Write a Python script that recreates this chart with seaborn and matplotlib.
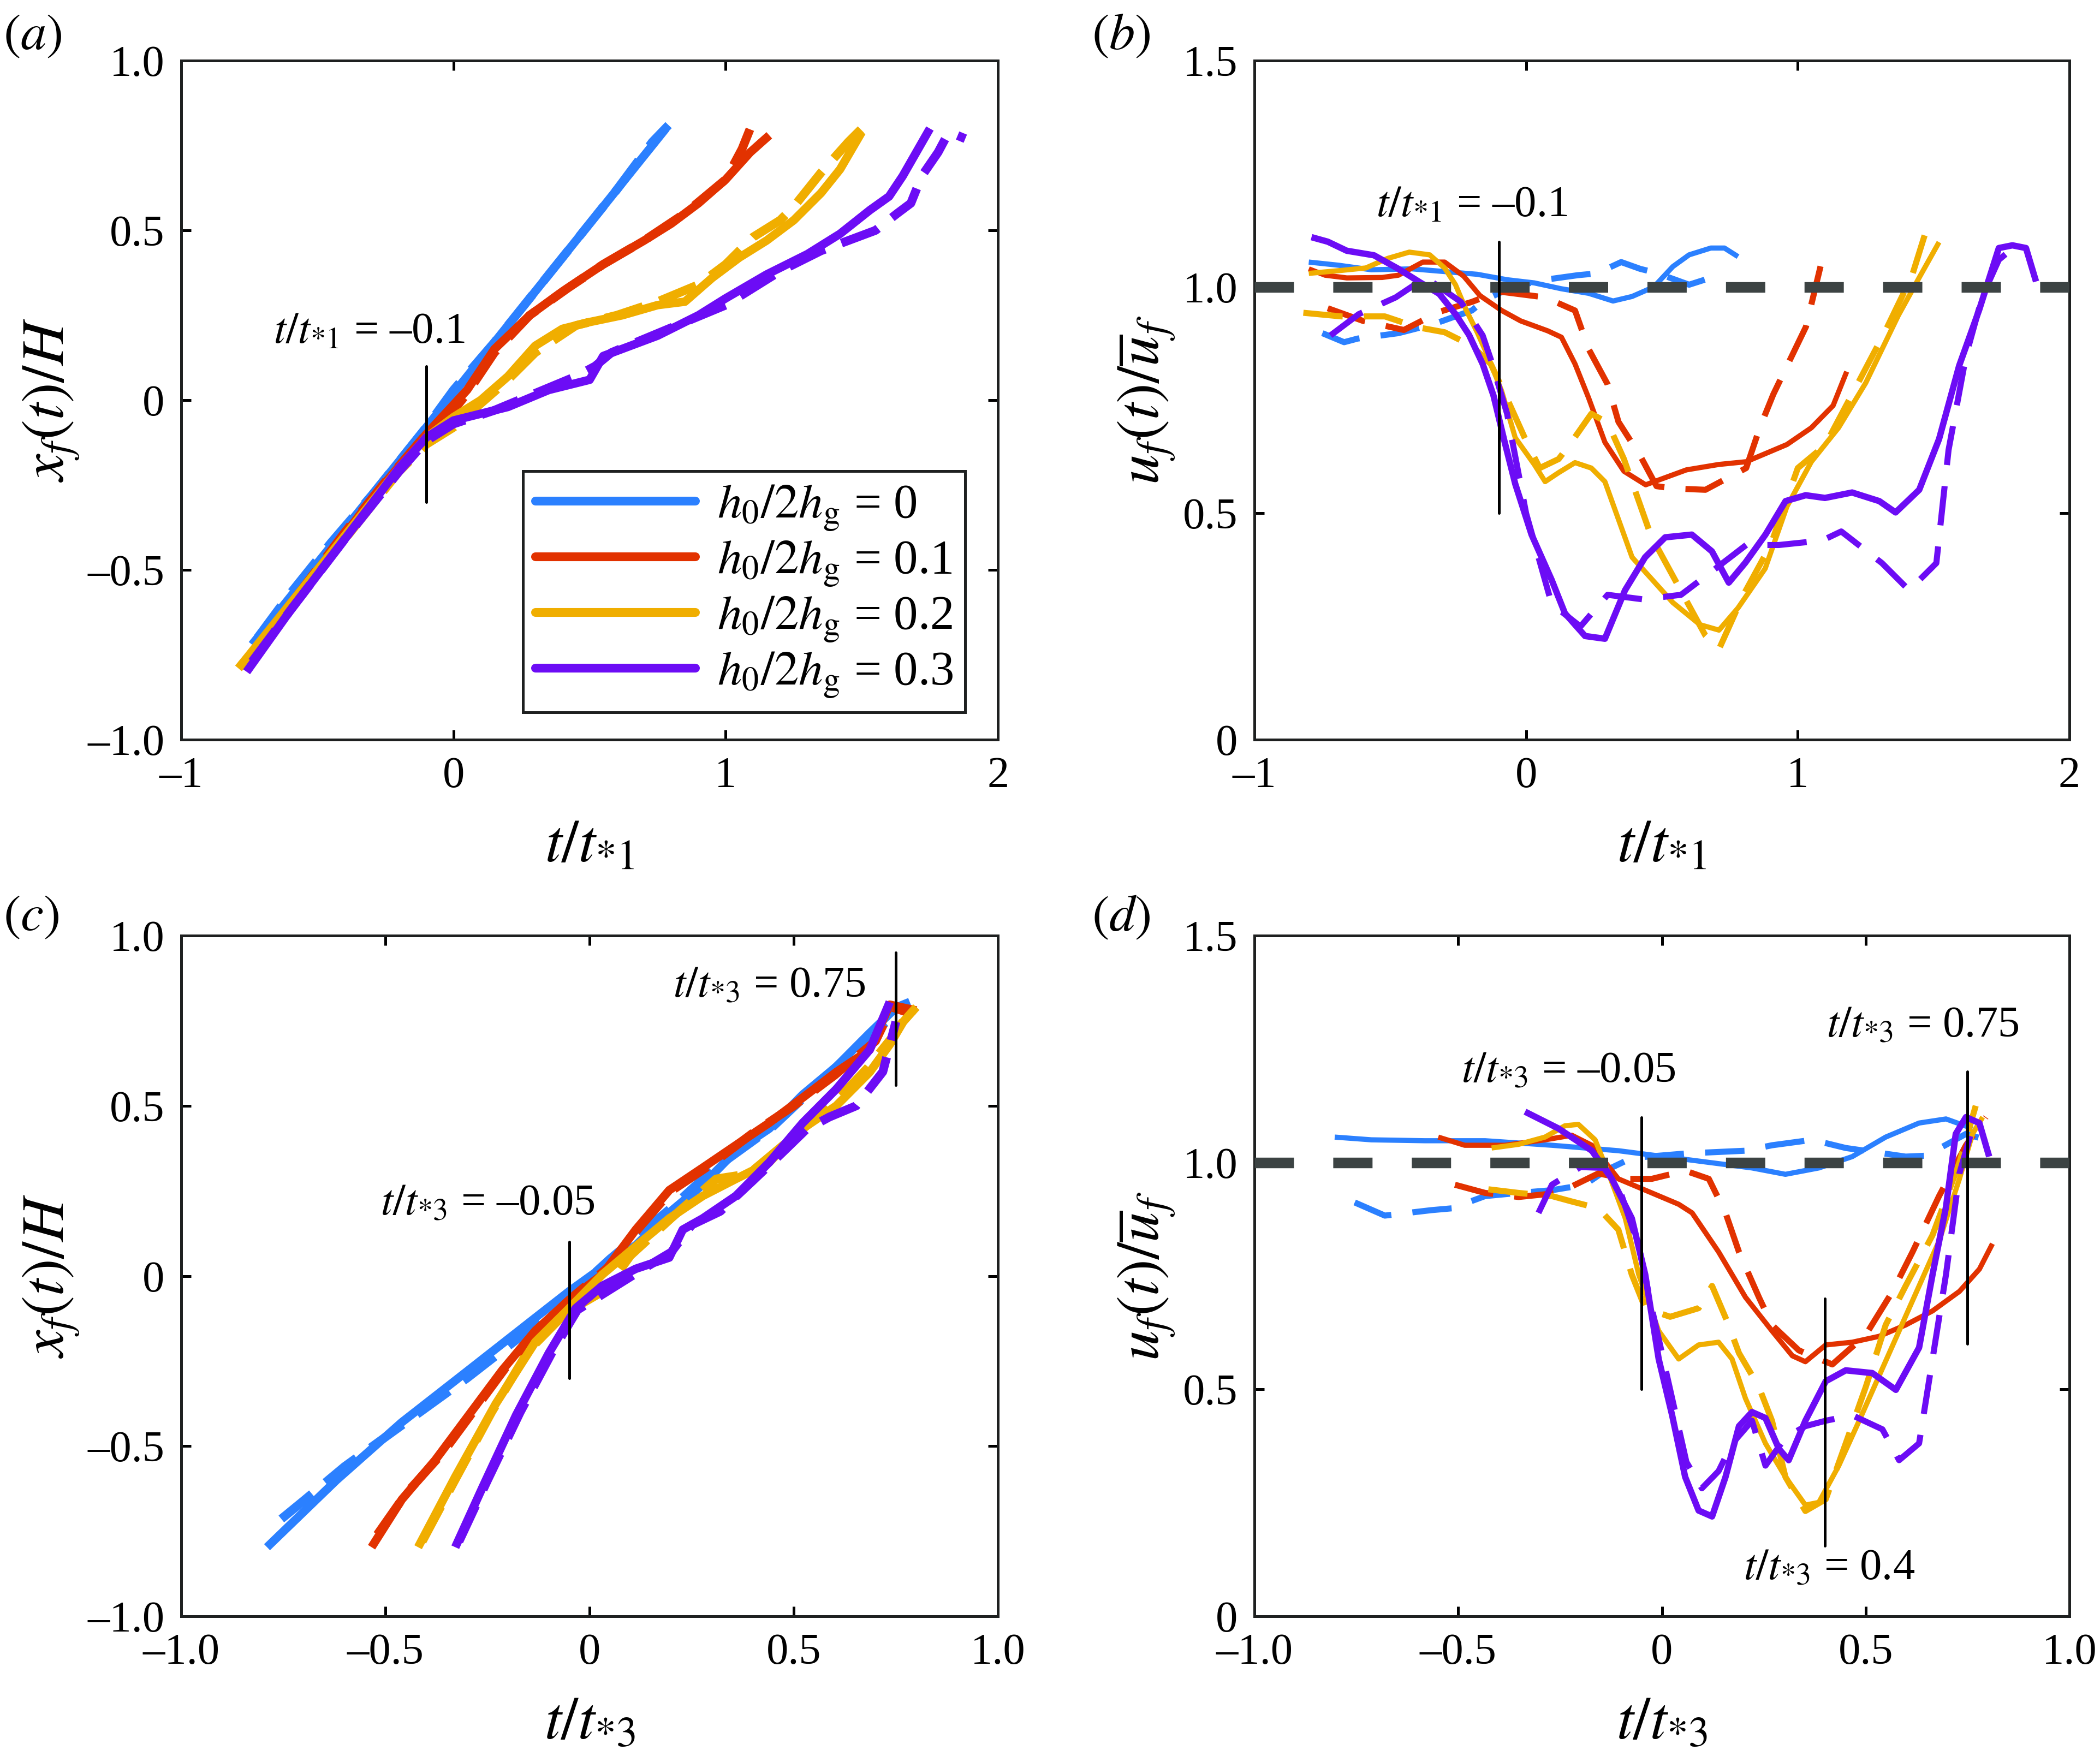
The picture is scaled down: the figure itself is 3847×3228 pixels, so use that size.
import numpy as np
import seaborn as sns
import matplotlib
matplotlib.use('Agg')
import matplotlib.pyplot as plt
from matplotlib.lines import Line2D

# ---------------- data ----------------
# panel (a): x_f/H against t/t*1, (t, x) pairs
a_blue_solid = [(-0.74, -0.72), (-0.6, -0.58), (-0.45, -0.43), (-0.3, -0.28), (-0.1, -0.08), (0.0, 0.02),
                (0.1, 0.12), (0.25, 0.27), (0.4, 0.42), (0.55, 0.57), (0.7, 0.72), (0.78, 0.80)]
a_blue_dash = [(-0.72, -0.70), (-0.6, -0.57), (-0.45, -0.42), (-0.3, -0.28), (-0.1, -0.08), (0.0, 0.03),
               (0.15, 0.17), (0.3, 0.32), (0.45, 0.47), (0.6, 0.62), (0.73, 0.76), (0.79, 0.81)]
a_red_solid = [(-0.75, -0.76), (-0.6, -0.6), (-0.45, -0.45), (-0.3, -0.29), (-0.1, -0.1), (0.05, 0.03),
               (0.15, 0.15), (0.28, 0.25), (0.4, 0.32), (0.55, 0.40), (0.7, 0.47), (0.8, 0.52), (0.9, 0.58),
               (1.0, 0.65), (1.09, 0.73), (1.16, 0.78)]
a_red_dash = [(-0.72, -0.73), (-0.55, -0.55), (-0.4, -0.39), (-0.25, -0.24), (-0.1, -0.1), (0.0, -0.03),
              (0.05, 0.02), (0.15, 0.14), (0.28, 0.25), (0.42, 0.33), (0.55, 0.40), (0.7, 0.47), (0.85, 0.55),
              (1.0, 0.65), (1.06, 0.74), (1.1, 0.82)]
a_yellow_solid = [(-0.78, -0.78), (-0.6, -0.6), (-0.4, -0.4), (-0.2, -0.2), (-0.1, -0.11), (0.0, -0.05),
                  (0.1, 0.0), (0.2, 0.07), (0.3, 0.16), (0.4, 0.21), (0.5, 0.23), (0.62, 0.25), (0.75, 0.28),
                  (0.85, 0.29), (0.95, 0.36), (1.05, 0.42), (1.15, 0.47), (1.25, 0.53), (1.35, 0.61),
                  (1.42, 0.68), (1.5, 0.79)]
a_yellow_dash = [(-0.79, -0.79), (-0.6, -0.61), (-0.4, -0.41), (-0.2, -0.21), (-0.1, -0.13), (0.0, -0.08),
                 (0.1, -0.01), (0.2, 0.06), (0.3, 0.14), (0.45, 0.22), (0.6, 0.25), (0.75, 0.29), (0.9, 0.34),
                 (1.0, 0.40), (1.1, 0.48), (1.2, 0.53), (1.25, 0.57), (1.35, 0.67), (1.45, 0.76), (1.5, 0.80)]
a_purple_solid = [(-0.76, -0.8), (-0.6, -0.62), (-0.4, -0.41), (-0.2, -0.2), (-0.1, -0.11), (0.0, -0.06),
                  (0.1, -0.04), (0.2, -0.02), (0.35, 0.03), (0.45, 0.05), (0.5, 0.06), (0.55, 0.13),
                  (0.65, 0.16), (0.75, 0.19), (0.9, 0.25), (1.0, 0.30), (1.15, 0.37), (1.3, 0.43), (1.42, 0.49),
                  (1.53, 0.56), (1.6, 0.60), (1.65, 0.66), (1.75, 0.80)]
a_purple_dash = [(-0.74, -0.77), (-0.6, -0.62), (-0.4, -0.41), (-0.2, -0.21), (-0.1, -0.12), (0.0, -0.07),
                 (0.15, -0.03), (0.3, 0.02), (0.45, 0.07), (0.52, 0.10), (0.58, 0.14), (0.7, 0.18),
                 (0.85, 0.23), (1.0, 0.28), (1.1, 0.33), (1.2, 0.38), (1.35, 0.44), (1.45, 0.47), (1.55, 0.50),
                 (1.63, 0.55), (1.68, 0.58), (1.72, 0.66), (1.78, 0.73), (1.82, 0.79), (1.88, 0.77)]

# panel (b): u_f/mean(u_f) against t/t*1
b_blue_solid = [(-0.80, 1.055), (-0.69, 1.048), (-0.57, 1.038), (-0.42, 1.04), (-0.28, 1.033), (-0.18, 1.028),
                (-0.07, 1.016), (0.03, 1.009), (0.13, 0.996), (0.23, 0.986), (0.32, 0.969), (0.39, 0.979),
                (0.47, 1.0), (0.54, 1.045), (0.60, 1.071), (0.68, 1.086), (0.73, 1.086), (0.78, 1.067)]
b_blue_dash = [(-0.75, 0.898), (-0.67, 0.878), (-0.62, 0.886), (-0.47, 0.898), (-0.34, 0.918), (-0.2, 0.948),
               (-0.15, 0.972), (-0.05, 1.0), (0.07, 1.016), (0.19, 1.026), (0.26, 1.03), (0.35, 1.055),
               (0.42, 1.04), (0.48, 1.031), (0.6, 1.005), (0.73, 1.03)]
b_red_solid = [(-0.80, 1.04), (-0.74, 1.026), (-0.66, 1.02), (-0.53, 1.021), (-0.47, 1.026), (-0.38, 1.055),
               (-0.30, 1.055), (-0.23, 1.024), (-0.17, 0.981), (-0.09, 0.948), (-0.02, 0.925), (0.08, 0.903),
               (0.13, 0.889), (0.18, 0.83), (0.23, 0.755), (0.29, 0.657), (0.36, 0.593), (0.44, 0.563),
               (0.59, 0.596), (0.71, 0.608), (0.81, 0.614), (0.96, 0.652), (1.05, 0.689), (1.13, 0.738),
               (1.18, 0.813)]
b_red_dash = [(-0.73, 0.953), (-0.60, 0.925), (-0.45, 0.905), (-0.32, 0.945), (-0.2, 0.967), (-0.1, 0.99),
              (0.07, 0.977), (0.18, 0.948), (0.23, 0.863), (0.30, 0.785), (0.34, 0.702), (0.42, 0.627),
              (0.48, 0.56), (0.54, 0.555), (0.66, 0.552), (0.81, 0.60), (0.86, 0.689), (0.91, 0.763),
              (1.03, 0.912), (1.10, 1.086)]
b_yellow_solid = [(-0.80, 1.03), (-0.69, 1.036), (-0.59, 1.042), (-0.51, 1.063), (-0.43, 1.077), (-0.355, 1.071),
                  (-0.30, 1.042), (-0.26, 1.005), (-0.22, 0.948), (-0.18, 0.90), (-0.14, 0.846), (-0.09, 0.77),
                  (-0.04, 0.667), (0.03, 0.608), (0.07, 0.57), (0.12, 0.59), (0.18, 0.612), (0.24, 0.60),
                  (0.29, 0.57), (0.39, 0.403), (0.54, 0.303), (0.64, 0.254), (0.71, 0.242), (0.78, 0.291),
                  (0.88, 0.378), (0.96, 0.515), (1.05, 0.614), (1.15, 0.689), (1.25, 0.788), (1.37, 0.937),
                  (1.45, 1.024), (1.52, 1.099)]
b_yellow_dash = [(-0.82, 0.943), (-0.68, 0.935), (-0.52, 0.935), (-0.40, 0.911), (-0.30, 0.90), (-0.2, 0.87),
                 (-0.13, 0.83), (-0.06, 0.74), (0.0, 0.66), (0.05, 0.60), (0.12, 0.62), (0.17, 0.66),
                 (0.24, 0.72), (0.30, 0.70), (0.36, 0.62), (0.46, 0.45), (0.56, 0.34), (0.66, 0.23),
                 (0.71, 0.20), (0.8, 0.32), (0.9, 0.43), (1.0, 0.60), (1.1, 0.65), (1.2, 0.763), (1.32, 0.90),
                 (1.42, 1.024), (1.47, 1.12)]
b_purple_solid = [(-0.79, 1.11), (-0.73, 1.10), (-0.66, 1.08), (-0.56, 1.07), (-0.47, 1.04), (-0.39, 1.01),
                  (-0.32, 0.985), (-0.26, 0.94), (-0.21, 0.894), (-0.16, 0.83), (-0.12, 0.76), (-0.08, 0.66),
                  (-0.04, 0.565), (0.02, 0.453), (0.094, 0.353), (0.143, 0.279), (0.217, 0.229), (0.29, 0.223),
                  (0.364, 0.33), (0.438, 0.403), (0.512, 0.447), (0.61, 0.453), (0.684, 0.416), (0.746, 0.347),
                  (0.807, 0.391), (0.881, 0.453), (0.955, 0.527), (1.029, 0.54), (1.10, 0.534), (1.20, 0.546),
                  (1.30, 0.527), (1.36, 0.502), (1.447, 0.552), (1.52, 0.664), (1.594, 0.826), (1.668, 0.95),
                  (1.74, 1.086), (1.79, 1.092), (1.84, 1.086), (1.877, 1.012)]
b_purple_dash = [(-0.72, 0.893), (-0.616, 0.94), (-0.48, 0.977), (-0.37, 1.021), (-0.24, 0.967), (-0.16, 0.893),
                 (-0.13, 0.84), (-0.07, 0.72), (0.0, 0.50), (0.094, 0.30), (0.2, 0.25), (0.30, 0.32), (0.43, 0.31),
                 (0.57, 0.32), (0.68, 0.37), (0.81, 0.43), (0.93, 0.43), (1.09, 0.44), (1.16, 0.46),
                 (1.31, 0.39), (1.41, 0.33), (1.51, 0.39), (1.555, 0.64), (1.62, 0.85), (1.68, 0.98),
                 (1.74, 1.06), (1.80, 1.09)]

# panel (c): x_f/H against t/t*3
c_blue_solid = [(-0.79, -0.797), (-0.62, -0.60), (-0.46, -0.43), (-0.3, -0.28), (-0.13, -0.12),
                (-0.05, -0.045), (0.031, 0.025), (0.113, 0.09), (0.195, 0.186), (0.277, 0.268), (0.358, 0.367),
                (0.44, 0.433), (0.522, 0.533), (0.604, 0.615), (0.686, 0.714), (0.751, 0.789), (0.784, 0.805)]
c_blue_dash = [(-0.755, -0.714), (-0.7, -0.66), (-0.6, -0.56), (-0.45, -0.43), (-0.3, -0.30), (-0.15, -0.16),
               (-0.05, -0.06), (0.05, 0.05), (0.2, 0.20), (0.3, 0.31), (0.45, 0.44), (0.6, 0.61), (0.7, 0.72),
               (0.78, 0.80)]
c_red_solid = [(-0.534, -0.797), (-0.46, -0.657), (-0.378, -0.541), (-0.296, -0.409), (-0.214, -0.277),
               (-0.133, -0.161), (-0.05, -0.07), (0.031, 0.004), (0.113, 0.136), (0.195, 0.252), (0.277, 0.318),
               (0.358, 0.384), (0.44, 0.45), (0.522, 0.524), (0.604, 0.599), (0.686, 0.665), (0.735, 0.797),
               (0.80, 0.78)]
c_red_dash = [(-0.52, -0.76), (-0.45, -0.64), (-0.36, -0.52), (-0.28, -0.39), (-0.2, -0.26), (-0.12, -0.15),
              (-0.04, -0.06), (0.05, 0.03), (0.12, 0.14), (0.2, 0.25), (0.3, 0.33), (0.4, 0.42), (0.5, 0.50),
              (0.6, 0.59), (0.7, 0.69), (0.74, 0.79), (0.79, 0.77)]
c_yellow_solid = [(-0.42, -0.797), (-0.329, -0.59), (-0.23, -0.376), (-0.133, -0.194), (-0.05, -0.095),
                  (0.031, 0.004), (0.113, 0.087), (0.195, 0.169), (0.277, 0.235), (0.358, 0.285), (0.44, 0.334),
                  (0.522, 0.433), (0.604, 0.5), (0.686, 0.599), (0.735, 0.68), (0.768, 0.747), (0.80, 0.79)]
c_yellow_dash = [(-0.41, -0.78), (-0.33, -0.60), (-0.24, -0.40), (-0.15, -0.22), (-0.06, -0.11), (0.04, -0.04),
                 (0.1, 0.06), (0.2, 0.17), (0.31, 0.285), (0.39, 0.30), (0.49, 0.40), (0.6, 0.51), (0.68, 0.61),
                 (0.74, 0.70), (0.78, 0.77)]
c_purple_solid = [(-0.329, -0.797), (-0.263, -0.623), (-0.18, -0.409), (-0.1, -0.227), (-0.034, -0.095),
                  (0.031, -0.029), (0.113, 0.021), (0.195, 0.054), (0.228, 0.136), (0.277, 0.169), (0.358, 0.235),
                  (0.44, 0.334), (0.522, 0.45), (0.604, 0.549), (0.686, 0.665), (0.735, 0.805)]
c_purple_dash = [(-0.32, -0.78), (-0.25, -0.60), (-0.17, -0.40), (-0.09, -0.22), (-0.03, -0.10), (0.05, -0.04),
                 (0.13, 0.02), (0.2, 0.07), (0.25, 0.15), (0.32, 0.19), (0.4, 0.28), (0.47, 0.36), (0.53, 0.43),
                 (0.587, 0.467), (0.653, 0.50), (0.718, 0.60), (0.75, 0.747)]

# panel (d): u_f/mean(u_f) against t/t*3
d_blue_solid = [(-0.803, 1.056), (-0.713, 1.05), (-0.582, 1.048), (-0.434, 1.048), (-0.27, 1.038),
                (-0.107, 1.026), (0.057, 1.007), (0.221, 0.988), (0.303, 0.974), (0.385, 0.988), (0.467, 1.013),
                (0.549, 1.056), (0.631, 1.087), (0.697, 1.096), (0.762, 1.075)]
d_blue_dash = [(-0.754, 0.912), (-0.68, 0.883), (-0.566, 0.895), (-0.516, 0.899), (-0.434, 0.926),
               (-0.352, 0.933), (-0.27, 0.939), (-0.189, 0.951), (-0.139, 0.982), (-0.074, 1.01), (0.06, 1.02),
               (0.205, 1.026), (0.27, 1.038), (0.369, 1.05), (0.451, 1.032), (0.598, 1.013), (0.648, 1.015),
               (0.746, 1.063), (0.795, 1.05)]
d_red_solid = [(-0.549, 1.056), (-0.484, 1.038), (-0.385, 1.038), (-0.287, 1.05), (-0.221, 1.06), (-0.172, 1.038),
               (-0.107, 0.964), (-0.025, 0.933), (0.041, 0.908), (0.074, 0.889), (0.139, 0.803), (0.205, 0.703),
               (0.27, 0.629), (0.32, 0.574), (0.352, 0.561), (0.402, 0.598), (0.467, 0.604), (0.533, 0.617),
               (0.598, 0.642), (0.664, 0.673), (0.73, 0.716), (0.779, 0.765), (0.811, 0.821)]
d_red_dash = [(-0.508, 0.951), (-0.434, 0.933), (-0.352, 0.924), (-0.254, 0.933), (-0.156, 0.976), (-0.09, 0.964),
              (-0.025, 0.964), (0.057, 0.982), (0.115, 0.964), (0.156, 0.889), (0.189, 0.803), (0.238, 0.703),
              (0.27, 0.642), (0.336, 0.586), (0.418, 0.555), (0.5, 0.62), (0.566, 0.716), (0.615, 0.803),
              (0.68, 0.926), (0.746, 1.038), (0.795, 1.1)]
d_yellow_solid = [(-0.418, 1.032), (-0.352, 1.04), (-0.287, 1.056), (-0.238, 1.081), (-0.205, 1.084),
                  (-0.164, 1.05), (-0.131, 0.976), (-0.09, 0.877), (-0.057, 0.753), (-0.008, 0.629), (0.041, 0.567),
                  (0.09, 0.598), (0.139, 0.604), (0.172, 0.567), (0.205, 0.48), (0.254, 0.381), (0.303, 0.307),
                  (0.352, 0.245), (0.385, 0.251), (0.434, 0.332), (0.484, 0.431), (0.533, 0.53), (0.582, 0.629),
                  (0.631, 0.728), (0.68, 0.827), (0.73, 0.964), (0.762, 1.063), (0.787, 1.1)]
d_yellow_dash = [(-0.426, 0.941), (-0.352, 0.933), (-0.27, 0.926), (-0.221, 0.914), (-0.156, 0.899),
                 (-0.107, 0.852), (-0.074, 0.753), (-0.041, 0.679), (0.02, 0.66), (0.09, 0.679), (0.123, 0.728),
                 (0.16, 0.65), (0.189, 0.58), (0.238, 0.505), (0.27, 0.431), (0.303, 0.307), (0.352, 0.232),
                 (0.402, 0.258), (0.451, 0.381), (0.5, 0.505), (0.549, 0.642), (0.598, 0.728), (0.664, 0.84),
                 (0.73, 1.0), (0.77, 1.125)]
d_purple_solid = [(-0.336, 1.112), (-0.254, 1.075), (-0.172, 1.026), (-0.123, 0.964), (-0.074, 0.877),
                  (-0.041, 0.753), (-0.008, 0.567), (0.025, 0.443), (0.057, 0.307), (0.09, 0.233), (0.123, 0.22),
                  (0.156, 0.307), (0.189, 0.419), (0.221, 0.45), (0.254, 0.437), (0.287, 0.369), (0.311, 0.344),
                  (0.352, 0.431), (0.402, 0.518), (0.451, 0.542), (0.516, 0.536), (0.574, 0.499), (0.631, 0.592),
                  (0.664, 0.753), (0.697, 0.902), (0.721, 1.063), (0.746, 1.1), (0.779, 1.087), (0.803, 1.013)]
d_purple_dash = [(-0.303, 0.889), (-0.27, 0.951), (-0.2, 0.99), (-0.139, 0.988), (-0.1, 0.93), (-0.057, 0.815),
                 (-0.025, 0.679), (0.02, 0.5), (0.06, 0.34), (0.098, 0.282), (0.139, 0.32), (0.172, 0.38),
                 (0.221, 0.431), (0.254, 0.332), (0.303, 0.394), (0.352, 0.419), (0.402, 0.431), (0.467, 0.443),
                 (0.541, 0.412), (0.582, 0.344), (0.631, 0.381), (0.664, 0.567), (0.697, 0.753), (0.73, 0.976),
                 (0.762, 1.075)]

legend_labels = [r'$h_0/2h_\mathrm{g}$ = 0', r'$h_0/2h_\mathrm{g}$ = 0.1',
                 r'$h_0/2h_\mathrm{g}$ = 0.2', r'$h_0/2h_\mathrm{g}$ = 0.3']
colors = ['#2b80ff', '#e23200', '#f0ae00', '#6c0cf5']

# ---------------- style ----------------
sns.set_theme(style='ticks')
plt.rcParams['font.family'] = ['Liberation Serif', 'DejaVu Serif']
plt.rcParams['mathtext.fontset'] = 'stix'
plt.rcParams['text.color'] = 'black'
plt.rcParams['axes.labelcolor'] = 'black'

TICK_FS = 14.5
LABEL_FS = 20

fig = plt.figure(figsize=(9.62, 8.07), dpi=400)
ax_a = fig.add_axes([0.0863, 0.5802, 0.3888, 0.3854])
ax_b = fig.add_axes([0.5972, 0.5802, 0.3880, 0.3854])
ax_c = fig.add_axes([0.0863, 0.0827, 0.3888, 0.3863])
ax_d = fig.add_axes([0.5972, 0.0827, 0.3880, 0.3863])


def tick_text(v, digits):
    if abs(v) < 1e-9:
        return '0'
    return f'{v:.{digits}f}'.replace('-', '\u2013')


def style_axes(ax, xlim, ylim, xticks, yticks, xd, yd, xlabel, ylabel):
    ax.set_xlim(xlim)
    ax.set_ylim(ylim)
    ax.set_xticks(xticks, [tick_text(v, xd) for v in xticks])
    ax.set_yticks(yticks, [tick_text(v, yd) for v in yticks])
    ax.tick_params(direction='in', top=True, right=True, length=3.2, width=0.9,
                   labelsize=TICK_FS, colors='black', pad=5.5)
    for s in ax.spines.values():
        s.set_linewidth(0.9)
        s.set_color('#1e2020')
    ax.set_xlabel(xlabel, fontsize=LABEL_FS, labelpad=8)
    ax.set_ylabel(ylabel, fontsize=LABEL_FS, labelpad=2)


def draw(ax, pts, color, lw, dashes=None):
    arr = np.array(pts)
    sns.lineplot(x=arr[:, 0], y=arr[:, 1], ax=ax, color=color, linewidth=lw,
                 sort=False, estimator=None)
    line = ax.lines[-1]
    line.set_solid_capstyle('butt')
    line.set_solid_joinstyle('round')
    line.set_dash_capstyle('butt')
    if dashes is not None:
        line.set_dashes(dashes)


def marker(ax, x, y0, y1):
    ax.plot([x, x], [y0, y1], color='black', lw=0.9, zorder=6)


def note(ax, x, y, sub, value):
    ax.text(x, y, r'$t/t_{*' + sub + '}$ = ' + value.replace('-', '\u2013'),
            ha='center', va='center', fontsize=TICK_FS)


# ---------------- panel (a) ----------------
series_a = [(a_blue_solid, a_blue_dash), (a_red_solid, a_red_dash),
            (a_yellow_solid, a_yellow_dash), (a_purple_solid, a_purple_dash)]
for (sol, das), col in zip(series_a, colors):
    draw(ax_a, das, col, 2.9, dashes=(4.5, 2))
    draw(ax_a, sol, col, 2.8)
marker(ax_a, -0.1, -0.3, 0.1)
note(ax_a, -0.31, 0.2, '1', '-0.1')
style_axes(ax_a, (-1, 2), (-1, 1), [-1, 0, 1, 2], [-1, -0.5, 0, 0.5, 1], 0, 1,
           r'$t/t_{*1}$', r'$x_f(t)/H$')
handles = [Line2D([0], [0], color=c, lw=2.9) for c in colors]
leg = ax_a.legend(handles, legend_labels, loc='lower right', bbox_to_anchor=(0.96, 0.04),
                  frameon=True, fancybox=False, edgecolor='#1e2020', framealpha=1,
                  fontsize=16, handlelength=3.3, labelspacing=0.12, borderpad=0.25,
                  handletextpad=0.45, borderaxespad=0)
leg.get_frame().set_linewidth(0.9)

# ---------------- panel (b) ----------------
series_b = [(b_blue_solid, b_blue_dash), (b_red_solid, b_red_dash),
            (b_yellow_solid, b_yellow_dash), (b_purple_solid, b_purple_dash)]
for (sol, das), col in zip(series_b, colors):
    draw(ax_b, das, col, 2.0, dashes=(6.5, 3.5))
    draw(ax_b, sol, col, 2.1 if col == colors[3] else 1.7)
ax_b.axhline(1.0, color='#3c4343', lw=3.5, dashes=(3.7, 3.7), zorder=5)
marker(ax_b, -0.1, 0.5, 1.1)
note(ax_b, -0.2, 1.18, '1', '-0.1')
style_axes(ax_b, (-1, 2), (0, 1.5), [-1, 0, 1, 2], [0, 0.5, 1.0, 1.5], 0, 1,
           r'$t/t_{*1}$', r'$u_f(t)/\overline{u}_f$')

# ---------------- panel (c) ----------------
series_c = [(c_blue_solid, c_blue_dash), (c_red_solid, c_red_dash),
            (c_yellow_solid, c_yellow_dash), (c_purple_solid, c_purple_dash)]
for (sol, das), col in zip(series_c, colors):
    draw(ax_c, das, col, 2.9, dashes=(4.5, 2))
    draw(ax_c, sol, col, 2.8)
marker(ax_c, -0.05, -0.3, 0.1)
marker(ax_c, 0.75, 0.56, 0.95)
note(ax_c, -0.25, 0.21, '3', '-0.05')
note(ax_c, 0.44, 0.85, '3', '0.75')
style_axes(ax_c, (-1, 1), (-1, 1), [-1, -0.5, 0, 0.5, 1], [-1, -0.5, 0, 0.5, 1], 1, 1,
           r'$t/t_{*3}$', r'$x_f(t)/H$')

# ---------------- panel (d) ----------------
series_d = [(d_blue_solid, d_blue_dash), (d_red_solid, d_red_dash),
            (d_yellow_solid, d_yellow_dash), (d_purple_solid, d_purple_dash)]
for (sol, das), col in zip(series_d, colors):
    draw(ax_d, das, col, 2.0, dashes=(6.5, 3.5))
    draw(ax_d, sol, col, 2.1 if col == colors[3] else 1.7)
ax_d.axhline(1.0, color='#3c4343', lw=3.5, dashes=(3.7, 3.7), zorder=5)
marker(ax_d, -0.05, 0.5, 1.1)
marker(ax_d, 0.75, 0.6, 1.2)
marker(ax_d, 0.4, 0.155, 0.7)
note(ax_d, -0.23, 1.2, '3', '-0.05')
note(ax_d, 0.64, 1.3, '3', '0.75')
note(ax_d, 0.41, 0.104, '3', '0.4')
style_axes(ax_d, (-1, 1), (0, 1.5), [-1, -0.5, 0, 0.5, 1], [0, 0.5, 1.0, 1.5], 1, 1,
           r'$t/t_{*3}$', r'$u_f(t)/\overline{u}_f$')

# panel letters
for x, y, s in [(0.0015, 0.992, '(a)'), (0.5198, 0.992, '(b)'),
                (0.0015, 0.492, '(c)'), (0.5198, 0.492, '(d)')]:
    fig.text(x, y, r'$' + s + '$', ha='left', va='top', fontsize=17)

fig.savefig('out.png', dpi=400, facecolor='white')
